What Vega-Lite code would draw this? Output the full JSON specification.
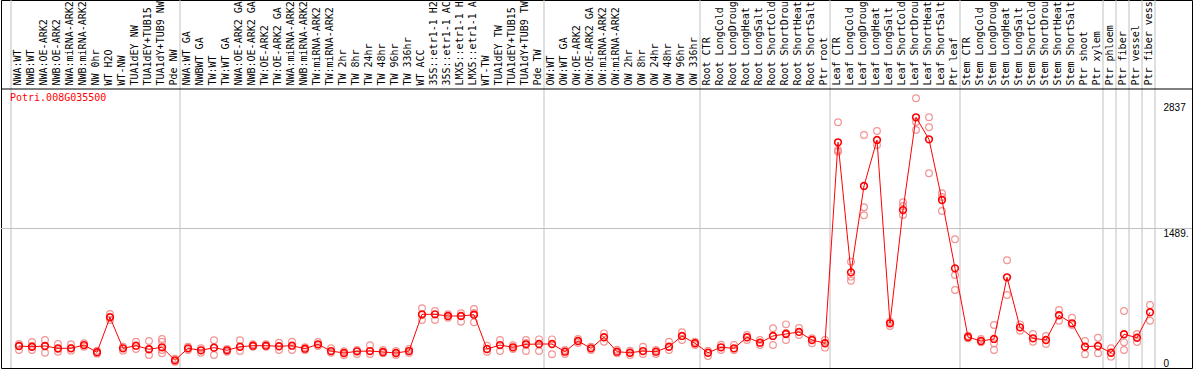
{
  "$schema": "https://vega.github.io/schema/vega-lite/v6.json",
  "width": 1191,
  "height": 368,
  "autosize": {"type": "none"},
  "padding": {"left": 1, "top": 0, "right": 2, "bottom": 2},
  "background": "white",
  "config": {"view": {"stroke": "black", "strokeWidth": 1}},
  "datasets": {
    "cols": [
      {"col": "01|NWA:WT", "value": 235}, {"col": "02|NWB:WT", "value": 227}, {"col": "03|NWA:OE-ARK2", "value": 235},
      {"col": "04|NWB:OE-ARK2", "value": 210}, {"col": "05|NWA:miRNA-ARK2", "value": 210}, {"col": "06|NWB:miRNA-ARK2", "value": 245},
      {"col": "07|NW 0hr", "value": 168}, {"col": "08|WT H2O", "value": 541}, {"col": "09|WT-NW", "value": 210},
      {"col": "10|TUA1dEY NW", "value": 238}, {"col": "11|TUA1dEY+TUB15", "value": 200}, {"col": "12|TUA1dY+TUB9 NW", "value": 221},
      {"col": "13|Pde NW", "value": 82}, {"col": "14|NWA:WT GA", "value": 210}, {"col": "15|NWBWT GA", "value": 189},
      {"col": "16|TW:WT", "value": 217}, {"col": "17|TW:WT GA", "value": 189}, {"col": "18|NWA:OE-ARK2 GA", "value": 227},
      {"col": "19|NWB:OE-ARK2 GA", "value": 238}, {"col": "20|TW:OE-ARK2", "value": 238}, {"col": "21|TW:OE-ARK2 GA", "value": 232},
      {"col": "22|NWA:miRNA-ARK2 GA", "value": 238}, {"col": "23|NWB:miRNA-ARK2 GA", "value": 206}, {"col": "24|TW:miRNA-ARK2", "value": 253},
      {"col": "25|TW:miRNA-ARK2", "value": 181}, {"col": "26|TW 2hr", "value": 160}, {"col": "27|TW 8hr", "value": 178},
      {"col": "28|TW 24hr", "value": 181}, {"col": "29|TW 48hr", "value": 171}, {"col": "30|TW 96hr", "value": 160},
      {"col": "31|TW 336hr", "value": 181}, {"col": "32|WT ACC", "value": 573}, {"col": "33|35S::etr1-1 H2O", "value": 573},
      {"col": "34|35S::etr1-1 ACC", "value": 555}, {"col": "35|LMX5::etr1-1 H2O", "value": 555}, {"col": "36|LMX5::etr1-1 ACC", "value": 569},
      {"col": "37|WT-TW", "value": 203}, {"col": "38|TUA1dEY TW", "value": 245}, {"col": "39|TUA1dEY+TUB15", "value": 221},
      {"col": "40|TUA1dY+TUB9 TW", "value": 253}, {"col": "41|Pde TW", "value": 256}, {"col": "42|OW:WT", "value": 256},
      {"col": "43|OW:WT GA", "value": 174}, {"col": "44|OW:OE-ARK2", "value": 288}, {"col": "45|OW:OE-ARK2 GA", "value": 210},
      {"col": "46|OW:miRNA-ARK2", "value": 328}, {"col": "47|OW:miRNA-ARK2", "value": 174}, {"col": "48|OW 2hr", "value": 163},
      {"col": "49|OW 8hr", "value": 181}, {"col": "50|OW 24hr", "value": 174}, {"col": "51|OW 48hr", "value": 227},
      {"col": "52|OW 96hr", "value": 342}, {"col": "53|OW 336hr", "value": 264}, {"col": "54|Root CTR", "value": 163},
      {"col": "55|Root LongCold", "value": 221}, {"col": "56|Root LongDrought", "value": 210}, {"col": "57|Root LongHeat", "value": 328},
      {"col": "58|Root LongSalt", "value": 270}, {"col": "59|Root ShortCold", "value": 342}, {"col": "60|Root ShortDrought", "value": 363},
      {"col": "61|Root ShortHeat", "value": 385}, {"col": "62|Root ShortSalt", "value": 299}, {"col": "63|Ptr root", "value": 264},
      {"col": "64|Leaf CTR", "value": 2409}, {"col": "65|Leaf LongCold", "value": 1021}, {"col": "66|Leaf LongDrought", "value": 1943},
      {"col": "67|Leaf LongHeat", "value": 2434}, {"col": "68|Leaf LongSalt", "value": 477}, {"col": "69|Leaf ShortCold", "value": 1686},
      {"col": "70|Leaf ShortDrought", "value": 2676}, {"col": "71|Leaf ShortHeat", "value": 2441}, {"col": "72|Leaf ShortSalt", "value": 1793},
      {"col": "73|Ptr leaf", "value": 1064}, {"col": "74|Stem CTR", "value": 331}, {"col": "75|Stem LongCold", "value": 288},
      {"col": "76|Stem LongDrought", "value": 310}, {"col": "77|Stem LongHeat", "value": 968}, {"col": "78|Stem LongSalt", "value": 434},
      {"col": "79|Stem ShortCold", "value": 317}, {"col": "80|Stem ShortDrought", "value": 299}, {"col": "81|Stem ShortHeat", "value": 563},
      {"col": "82|Stem ShortSalt", "value": 477}, {"col": "83|Ptr shoot", "value": 227}, {"col": "84|Ptr xylem", "value": 235},
      {"col": "85|Ptr phloem", "value": 163}, {"col": "86|Ptr fiber", "value": 360}, {"col": "87|Ptr vessel", "value": 323},
      {"col": "88|Ptr fiber vessel", "value": 595}
    ],
    "reps": [
      {"col": "01|NWA:WT", "value": 256}, {"col": "01|NWA:WT", "value": 192}, {"col": "01|NWA:WT", "value": 235},
      {"col": "02|NWB:WT", "value": 278}, {"col": "02|NWB:WT", "value": 192}, {"col": "02|NWB:WT", "value": 235},
      {"col": "03|NWA:OE-ARK2", "value": 299}, {"col": "03|NWA:OE-ARK2", "value": 163}, {"col": "03|NWA:OE-ARK2", "value": 235},
      {"col": "04|NWB:OE-ARK2", "value": 256}, {"col": "04|NWB:OE-ARK2", "value": 174}, {"col": "04|NWB:OE-ARK2", "value": 203},
      {"col": "05|NWA:miRNA-ARK2", "value": 253}, {"col": "05|NWA:miRNA-ARK2", "value": 185}, {"col": "05|NWA:miRNA-ARK2", "value": 213},
      {"col": "06|NWB:miRNA-ARK2", "value": 264}, {"col": "06|NWB:miRNA-ARK2", "value": 227},
      {"col": "07|NW 0hr", "value": 185}, {"col": "07|NW 0hr", "value": 153},
      {"col": "08|WT H2O", "value": 576}, {"col": "08|WT H2O", "value": 512}, {"col": "08|WT H2O", "value": 548},
      {"col": "09|WT-NW", "value": 227}, {"col": "09|WT-NW", "value": 185},
      {"col": "10|TUA1dEY NW", "value": 281}, {"col": "10|TUA1dEY NW", "value": 203},
      {"col": "11|TUA1dEY+TUB15", "value": 288}, {"col": "11|TUA1dEY+TUB15", "value": 139}, {"col": "11|TUA1dEY+TUB15", "value": 203},
      {"col": "12|TUA1dY+TUB9 NW", "value": 310}, {"col": "12|TUA1dY+TUB9 NW", "value": 281}, {"col": "12|TUA1dY+TUB9 NW", "value": 192}, {"col": "12|TUA1dY+TUB9 NW", "value": 157},
      {"col": "13|Pde NW", "value": 99}, {"col": "13|Pde NW", "value": 67},
      {"col": "14|NWA:WT GA", "value": 227}, {"col": "14|NWA:WT GA", "value": 192},
      {"col": "15|NWBWT GA", "value": 210}, {"col": "15|NWBWT GA", "value": 163},
      {"col": "16|TW:WT", "value": 296}, {"col": "16|TW:WT", "value": 139}, {"col": "16|TW:WT", "value": 213},
      {"col": "17|TW:WT GA", "value": 203}, {"col": "17|TW:WT GA", "value": 174},
      {"col": "18|NWA:OE-ARK2 GA", "value": 296}, {"col": "18|NWA:OE-ARK2 GA", "value": 181},
      {"col": "19|NWB:OE-ARK2 GA", "value": 253}, {"col": "19|NWB:OE-ARK2 GA", "value": 227},
      {"col": "20|TW:OE-ARK2", "value": 253}, {"col": "20|TW:OE-ARK2", "value": 227},
      {"col": "21|TW:OE-ARK2 GA", "value": 270}, {"col": "21|TW:OE-ARK2 GA", "value": 192},
      {"col": "22|NWA:miRNA-ARK2 GA", "value": 281}, {"col": "22|NWA:miRNA-ARK2 GA", "value": 192},
      {"col": "23|NWB:miRNA-ARK2 GA", "value": 221}, {"col": "23|NWB:miRNA-ARK2 GA", "value": 192},
      {"col": "24|TW:miRNA-ARK2", "value": 278}, {"col": "24|TW:miRNA-ARK2", "value": 235},
      {"col": "25|TW:miRNA-ARK2", "value": 210}, {"col": "25|TW:miRNA-ARK2", "value": 163},
      {"col": "26|TW 2hr", "value": 178}, {"col": "26|TW 2hr", "value": 139},
      {"col": "27|TW 8hr", "value": 192}, {"col": "27|TW 8hr", "value": 149},
      {"col": "28|TW 24hr", "value": 242}, {"col": "28|TW 24hr", "value": 149},
      {"col": "29|TW 48hr", "value": 192}, {"col": "29|TW 48hr", "value": 157},
      {"col": "30|TW 96hr", "value": 181}, {"col": "30|TW 96hr", "value": 139},
      {"col": "31|TW 336hr", "value": 203}, {"col": "31|TW 336hr", "value": 160},
      {"col": "32|WT ACC", "value": 637}, {"col": "32|WT ACC", "value": 512}, {"col": "32|WT ACC", "value": 566},
      {"col": "33|35S::etr1-1 H2O", "value": 608}, {"col": "33|35S::etr1-1 H2O", "value": 512},
      {"col": "34|35S::etr1-1 ACC", "value": 573}, {"col": "34|35S::etr1-1 ACC", "value": 537},
      {"col": "35|LMX5::etr1-1 H2O", "value": 584}, {"col": "35|LMX5::etr1-1 H2O", "value": 494}, {"col": "35|LMX5::etr1-1 H2O", "value": 555},
      {"col": "36|LMX5::etr1-1 ACC", "value": 630}, {"col": "36|LMX5::etr1-1 ACC", "value": 488}, {"col": "36|LMX5::etr1-1 ACC", "value": 587},
      {"col": "37|WT-TW", "value": 238}, {"col": "37|WT-TW", "value": 174},
      {"col": "38|TUA1dEY TW", "value": 299}, {"col": "38|TUA1dEY TW", "value": 181},
      {"col": "39|TUA1dEY+TUB15", "value": 242}, {"col": "39|TUA1dEY+TUB15", "value": 203},
      {"col": "40|TUA1dY+TUB9 TW", "value": 299}, {"col": "40|TUA1dY+TUB9 TW", "value": 181}, {"col": "40|TUA1dY+TUB9 TW", "value": 267},
      {"col": "41|Pde TW", "value": 306}, {"col": "41|Pde TW", "value": 181},
      {"col": "42|OW:WT", "value": 306}, {"col": "42|OW:WT", "value": 146},
      {"col": "43|OW:WT GA", "value": 192}, {"col": "43|OW:WT GA", "value": 149},
      {"col": "44|OW:OE-ARK2", "value": 310}, {"col": "44|OW:OE-ARK2", "value": 267},
      {"col": "45|OW:OE-ARK2 GA", "value": 227}, {"col": "45|OW:OE-ARK2 GA", "value": 192},
      {"col": "46|OW:miRNA-ARK2", "value": 370}, {"col": "46|OW:miRNA-ARK2", "value": 281},
      {"col": "47|OW:miRNA-ARK2", "value": 195}, {"col": "47|OW:miRNA-ARK2", "value": 157},
      {"col": "48|OW 2hr", "value": 185}, {"col": "48|OW 2hr", "value": 139},
      {"col": "49|OW 8hr", "value": 227}, {"col": "49|OW 8hr", "value": 149},
      {"col": "50|OW 24hr", "value": 192}, {"col": "50|OW 24hr", "value": 149},
      {"col": "51|OW 48hr", "value": 281}, {"col": "51|OW 48hr", "value": 192},
      {"col": "52|OW 96hr", "value": 381}, {"col": "52|OW 96hr", "value": 299},
      {"col": "53|OW 336hr", "value": 281}, {"col": "53|OW 336hr", "value": 245},
      {"col": "54|Root CTR", "value": 185}, {"col": "54|Root CTR", "value": 128},
      {"col": "55|Root LongCold", "value": 249}, {"col": "55|Root LongCold", "value": 192},
      {"col": "56|Root LongDrought", "value": 245}, {"col": "56|Root LongDrought", "value": 192},
      {"col": "57|Root LongHeat", "value": 352}, {"col": "57|Root LongHeat", "value": 299},
      {"col": "58|Root LongSalt", "value": 299}, {"col": "58|Root LongSalt", "value": 245},
      {"col": "59|Root ShortCold", "value": 424}, {"col": "59|Root ShortCold", "value": 245},
      {"col": "60|Root ShortDrought", "value": 466}, {"col": "60|Root ShortDrought", "value": 299}, {"col": "60|Root ShortDrought", "value": 374},
      {"col": "61|Root ShortHeat", "value": 427}, {"col": "61|Root ShortHeat", "value": 352},
      {"col": "62|Root ShortSalt", "value": 317}, {"col": "62|Root ShortSalt", "value": 264},
      {"col": "63|Ptr root", "value": 299}, {"col": "63|Ptr root", "value": 217},
      {"col": "64|Leaf CTR", "value": 2623}, {"col": "64|Leaf CTR", "value": 2309}, {"col": "64|Leaf CTR", "value": 2327},
      {"col": "65|Leaf LongCold", "value": 1135}, {"col": "65|Leaf LongCold", "value": 975}, {"col": "65|Leaf LongCold", "value": 932},
      {"col": "66|Leaf LongDrought", "value": 2487}, {"col": "66|Leaf LongDrought", "value": 1715}, {"col": "66|Leaf LongDrought", "value": 1630},
      {"col": "67|Leaf LongHeat", "value": 2530}, {"col": "67|Leaf LongHeat", "value": 2380},
      {"col": "68|Leaf LongSalt", "value": 494}, {"col": "68|Leaf LongSalt", "value": 448},
      {"col": "69|Leaf ShortCold", "value": 1769}, {"col": "69|Leaf ShortCold", "value": 1633}, {"col": "69|Leaf ShortCold", "value": 1729},
      {"col": "70|Leaf ShortDrought", "value": 2879}, {"col": "70|Leaf ShortDrought", "value": 2540}, {"col": "70|Leaf ShortDrought", "value": 2626},
      {"col": "71|Leaf ShortHeat", "value": 2676}, {"col": "71|Leaf ShortHeat", "value": 2569}, {"col": "71|Leaf ShortHeat", "value": 2078},
      {"col": "72|Leaf ShortSalt", "value": 1865}, {"col": "72|Leaf ShortSalt", "value": 1676}, {"col": "72|Leaf ShortSalt", "value": 1825},
      {"col": "73|Ptr leaf", "value": 1374}, {"col": "73|Ptr leaf", "value": 993}, {"col": "73|Ptr leaf", "value": 833},
      {"col": "74|Stem CTR", "value": 345}, {"col": "74|Stem CTR", "value": 317},
      {"col": "75|Stem LongCold", "value": 310}, {"col": "75|Stem LongCold", "value": 274},
      {"col": "76|Stem LongDrought", "value": 459}, {"col": "76|Stem LongDrought", "value": 264}, {"col": "76|Stem LongDrought", "value": 192},
      {"col": "77|Stem LongHeat", "value": 1150}, {"col": "77|Stem LongHeat", "value": 779},
      {"col": "78|Stem LongSalt", "value": 466}, {"col": "78|Stem LongSalt", "value": 398},
      {"col": "79|Stem ShortCold", "value": 363}, {"col": "79|Stem ShortCold", "value": 281},
      {"col": "80|Stem ShortDrought", "value": 342}, {"col": "80|Stem ShortDrought", "value": 256},
      {"col": "81|Stem ShortHeat", "value": 619}, {"col": "81|Stem ShortHeat", "value": 505},
      {"col": "82|Stem ShortSalt", "value": 537}, {"col": "82|Stem ShortSalt", "value": 459},
      {"col": "83|Ptr shoot", "value": 288}, {"col": "83|Ptr shoot", "value": 146},
      {"col": "84|Ptr xylem", "value": 323}, {"col": "84|Ptr xylem", "value": 157},
      {"col": "85|Ptr phloem", "value": 210}, {"col": "85|Ptr phloem", "value": 121},
      {"col": "86|Ptr fiber", "value": 608}, {"col": "86|Ptr fiber", "value": 274}, {"col": "86|Ptr fiber", "value": 192},
      {"col": "87|Ptr vessel", "value": 363}, {"col": "87|Ptr vessel", "value": 278},
      {"col": "88|Ptr fiber vessel", "value": 672}, {"col": "88|Ptr fiber vessel", "value": 505}
    ],
    "bounds": [
      {"col": "01|NWA:WT"}, {"col": "14|NWA:WT GA"}, {"col": "42|OW:WT"}, {"col": "54|Root CTR"},
      {"col": "64|Leaf CTR"}, {"col": "74|Stem CTR"}, {"col": "85|Ptr phloem"}, {"col": "86|Ptr fiber"},
      {"col": "87|Ptr vessel"}, {"col": "88|Ptr fiber vessel"}
    ],
    "endbound": [{"col": "88|Ptr fiber vessel"}],
    "hgrid": [{"value": 1489}],
    "divider": [{"value": 2978}],
    "gene": [{"col": "01|NWA:WT", "value": 2978, "name": "Potri.008G035500"}]
  },
  "layer": [
    {
      "data": {"name": "bounds"},
      "mark": {"type": "rule", "color": "#c0c0c0", "strokeWidth": 1},
      "encoding": {
        "x": {"field": "col", "type": "nominal", "bandPosition": 0,
              "scale": {"type": "band", "range": [10, 1154], "paddingInner": 0, "paddingOuter": 0},
              "axis": {"orient": "top", "offset": -89, "bandPosition": 0.7, "labelAngle": 270, "labelAlign": "left",
                       "labelBaseline": "middle", "labelPadding": 4, "ticks": false, "domain": false, "grid": false,
                       "title": null, "labelFont": "DejaVu Sans Mono", "labelFontSize": 10, "labelColor": "black",
                       "labelOverlap": false, "labelLimit": 400, "labelExpr": "split(datum.value, '|')[1]", "zindex": 1}}
      }
    },
    {
      "data": {"name": "endbound"},
      "mark": {"type": "rule", "color": "#c0c0c0", "strokeWidth": 1},
      "encoding": {
        "x": {"field": "col", "type": "nominal", "bandPosition": 1,
              "axis": {"orient": "top", "offset": -89, "bandPosition": 0.7, "labelAngle": 270, "labelAlign": "left",
                       "labelBaseline": "middle", "labelPadding": 4, "ticks": false, "domain": false, "grid": false,
                       "title": null, "labelFont": "DejaVu Sans Mono", "labelFontSize": 10, "labelColor": "black",
                       "labelOverlap": false, "labelLimit": 400, "labelExpr": "split(datum.value, '|')[1]", "zindex": 1}}
      }
    },
    {
      "data": {"name": "hgrid"},
      "mark": {"type": "rule", "color": "#c0c0c0", "strokeWidth": 1},
      "encoding": {
        "y": {"field": "value", "type": "quantitative",
              "scale": {"domain": [0, 2978], "range": [368, 89], "nice": false, "zero": true},
              "axis": {"orient": "right", "offset": -37, "values": [0, 1489, 2837],
                       "labelExpr": "datum.value == 1489 ? '1489.' : '' + datum.value",
                       "labelBaseline": {"condition": {"test": "datum.value == 0", "value": "bottom"}, "value": "top"},
                       "labelAlign": "left", "labelPadding": 8, "ticks": false, "domain": false, "grid": false,
                       "title": null, "labelFont": "Liberation Sans", "labelFontSize": 10, "labelColor": "black"}}
      }
    },
    {
      "data": {"name": "divider"},
      "mark": {"type": "rule", "color": "black", "strokeWidth": 1},
      "encoding": {
        "y": {"field": "value", "type": "quantitative",
              "axis": {"orient": "right", "offset": -37, "values": [0, 1489, 2837],
                       "labelExpr": "datum.value == 1489 ? '1489.' : '' + datum.value",
                       "labelBaseline": {"condition": {"test": "datum.value == 0", "value": "bottom"}, "value": "top"},
                       "labelAlign": "left", "labelPadding": 8, "ticks": false, "domain": false, "grid": false,
                       "title": null, "labelFont": "Liberation Sans", "labelFontSize": 10, "labelColor": "black"}}
      }
    },
    {
      "data": {"name": "reps"},
      "mark": {"type": "point", "shape": "circle", "filled": false, "stroke": "#f08a8a", "strokeWidth": 1.2, "size": 45, "opacity": 0.9},
      "encoding": {
        "x": {"field": "col", "type": "nominal", "bandPosition": 0.615,
              "axis": {"orient": "top", "offset": -89, "bandPosition": 0.7, "labelAngle": 270, "labelAlign": "left",
                       "labelBaseline": "middle", "labelPadding": 4, "ticks": false, "domain": false, "grid": false,
                       "title": null, "labelFont": "DejaVu Sans Mono", "labelFontSize": 10, "labelColor": "black",
                       "labelOverlap": false, "labelLimit": 400, "labelExpr": "split(datum.value, '|')[1]", "zindex": 1}},
        "y": {"field": "value", "type": "quantitative",
              "axis": {"orient": "right", "offset": -37, "values": [0, 1489, 2837],
                       "labelExpr": "datum.value == 1489 ? '1489.' : '' + datum.value",
                       "labelBaseline": {"condition": {"test": "datum.value == 0", "value": "bottom"}, "value": "top"},
                       "labelAlign": "left", "labelPadding": 8, "ticks": false, "domain": false, "grid": false,
                       "title": null, "labelFont": "Liberation Sans", "labelFontSize": 10, "labelColor": "black"}}
      }
    },
    {
      "data": {"name": "cols"},
      "mark": {"type": "line", "color": "#ff0000", "strokeWidth": 1},
      "encoding": {
        "x": {"field": "col", "type": "nominal", "bandPosition": 0.615,
              "axis": {"orient": "top", "offset": -89, "bandPosition": 0.7, "labelAngle": 270, "labelAlign": "left",
                       "labelBaseline": "middle", "labelPadding": 4, "ticks": false, "domain": false, "grid": false,
                       "title": null, "labelFont": "DejaVu Sans Mono", "labelFontSize": 10, "labelColor": "black",
                       "labelOverlap": false, "labelLimit": 400, "labelExpr": "split(datum.value, '|')[1]", "zindex": 1}},
        "y": {"field": "value", "type": "quantitative",
              "axis": {"orient": "right", "offset": -37, "values": [0, 1489, 2837],
                       "labelExpr": "datum.value == 1489 ? '1489.' : '' + datum.value",
                       "labelBaseline": {"condition": {"test": "datum.value == 0", "value": "bottom"}, "value": "top"},
                       "labelAlign": "left", "labelPadding": 8, "ticks": false, "domain": false, "grid": false,
                       "title": null, "labelFont": "Liberation Sans", "labelFontSize": 10, "labelColor": "black"}}
      }
    },
    {
      "data": {"name": "cols"},
      "mark": {"type": "point", "shape": "circle", "filled": false, "stroke": "#ff0000", "strokeWidth": 1.6, "size": 45, "opacity": 1},
      "encoding": {
        "x": {"field": "col", "type": "nominal", "bandPosition": 0.615,
              "axis": {"orient": "top", "offset": -89, "bandPosition": 0.7, "labelAngle": 270, "labelAlign": "left",
                       "labelBaseline": "middle", "labelPadding": 4, "ticks": false, "domain": false, "grid": false,
                       "title": null, "labelFont": "DejaVu Sans Mono", "labelFontSize": 10, "labelColor": "black",
                       "labelOverlap": false, "labelLimit": 400, "labelExpr": "split(datum.value, '|')[1]", "zindex": 1}},
        "y": {"field": "value", "type": "quantitative",
              "axis": {"orient": "right", "offset": -37, "values": [0, 1489, 2837],
                       "labelExpr": "datum.value == 1489 ? '1489.' : '' + datum.value",
                       "labelBaseline": {"condition": {"test": "datum.value == 0", "value": "bottom"}, "value": "top"},
                       "labelAlign": "left", "labelPadding": 8, "ticks": false, "domain": false, "grid": false,
                       "title": null, "labelFont": "Liberation Sans", "labelFontSize": 10, "labelColor": "black"}}
      }
    },
    {
      "data": {"name": "gene"},
      "mark": {"type": "text", "color": "#ff0000", "font": "DejaVu Sans Mono", "fontSize": 10, "align": "left", "baseline": "top", "dx": -1, "dy": 4},
      "encoding": {
        "x": {"field": "col", "type": "nominal", "bandPosition": 0,
              "axis": {"orient": "top", "offset": -89, "bandPosition": 0.7, "labelAngle": 270, "labelAlign": "left",
                       "labelBaseline": "middle", "labelPadding": 4, "ticks": false, "domain": false, "grid": false,
                       "title": null, "labelFont": "DejaVu Sans Mono", "labelFontSize": 10, "labelColor": "black",
                       "labelOverlap": false, "labelLimit": 400, "labelExpr": "split(datum.value, '|')[1]", "zindex": 1}},
        "y": {"field": "value", "type": "quantitative",
              "axis": {"orient": "right", "offset": -37, "values": [0, 1489, 2837],
                       "labelExpr": "datum.value == 1489 ? '1489.' : '' + datum.value",
                       "labelBaseline": {"condition": {"test": "datum.value == 0", "value": "bottom"}, "value": "top"},
                       "labelAlign": "left", "labelPadding": 8, "ticks": false, "domain": false, "grid": false,
                       "title": null, "labelFont": "Liberation Sans", "labelFontSize": 10, "labelColor": "black"}},
        "text": {"field": "name"}
      }
    }
  ]
}
